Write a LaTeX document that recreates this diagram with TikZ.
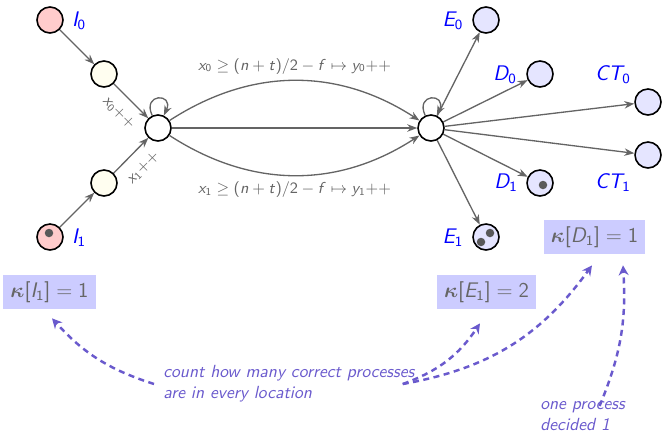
\documentclass[tikz,border=0pt]{standalone}
\usepackage{amsmath,bm}
\usetikzlibrary{arrows.meta}
\DeclareSymbolFont{sfit}{OT1}{cmss}{m}{sl}
\DeclareSymbolFont{sfup}{OT1}{cmss}{m}{n}
\DeclareMathSymbol{x}{\mathalpha}{sfit}{`x}
\DeclareMathSymbol{y}{\mathalpha}{sfit}{`y}
\DeclareMathSymbol{n}{\mathalpha}{sfit}{`n}
\DeclareMathSymbol{t}{\mathalpha}{sfit}{`t}
\DeclareMathSymbol{f}{\mathalpha}{sfit}{`f}
\DeclareMathSymbol{I}{\mathalpha}{sfit}{`I}
\DeclareMathSymbol{E}{\mathalpha}{sfit}{`E}
\DeclareMathSymbol{D}{\mathalpha}{sfit}{`D}
\DeclareMathSymbol{C}{\mathalpha}{sfit}{`C}
\DeclareMathSymbol{T}{\mathalpha}{sfit}{`T}
\DeclareMathSymbol{0}{\mathalpha}{sfup}{`0}
\DeclareMathSymbol{1}{\mathalpha}{sfup}{`1}
\DeclareMathSymbol{2}{\mathalpha}{sfup}{`2}
\DeclareMathSymbol{(}{\mathopen}{sfup}{`(}
\DeclareMathSymbol{)}{\mathclose}{sfup}{`)}
\DeclareMathSymbol{[}{\mathopen}{sfup}{`[}
\DeclareMathSymbol{]}{\mathclose}{sfup}{`]}
\DeclareMathSymbol{/}{\mathord}{sfup}{`/}
\definecolor{edgegray}{RGB}{100,100,100}
\definecolor{notepurple}{RGB}{106,90,205}
\definecolor{boxblue}{RGB}{204,204,255}
\begin{document}
\begin{tikzpicture}[x=0.2mm, y=-0.2mm, font=\sffamily,
  loc/.style={circle, draw, line width=0.9pt, minimum size=5.2mm, inner sep=0pt},
  mv/.style={draw=edgegray, line width=0.75pt, -{Stealth[length=2mm, width=1.5mm]}},
  lbl/.style={text=blue, font=\large\sffamily},
  guard/.style={text=edgegray, font=\small\sffamily},
  kbox/.style={fill=boxblue, text=black!60, font=\large\sffamily, minimum height=6.8mm, inner xsep=1.4mm},
  note/.style={text=notepurple, font=\sffamily\itshape, align=left, inner sep=0pt},
  hint/.style={notepurple, line width=1.4pt, dash pattern=on 1.2mm off 0.9mm, -{Stealth[length=2mm, width=2mm]}},
  tok/.style={circle, fill=black!65, inner sep=0pt, minimum size=1.7mm}]
  \useasboundingbox (0,0) rectangle (662,432);
  % locations
  \node[loc, fill=red!20] (i0) at (50,20) {};
  \node[loc, fill=red!20] (i1) at (50,237) {};
  \node[loc, fill=yellow!6] (a0) at (104,74) {};
  \node[loc, fill=yellow!6] (a1) at (104,183) {};
  \node[loc, fill=white] (l) at (158,128) {};
  \node[loc, fill=white] (r) at (431,128) {};
  \node[loc, fill=blue!10] (e0) at (486,20) {};
  \node[loc, fill=blue!10] (d0) at (540,74) {};
  \node[loc, fill=blue!10] (ct0) at (648,102) {};
  \node[loc, fill=blue!10] (ct1) at (648,155) {};
  \node[loc, fill=blue!10] (d1) at (540,183) {};
  \node[loc, fill=blue!10] (e1) at (486,237) {};
  \node[lbl] (li0) at (79,21) {$I_0$};
  \node[lbl] (li1) at (79,238) {$I_1$};
  \node[lbl] (le0) at (453,21) {$E_0$};
  \node[lbl] (ld0) at (505,75) {$D_0$};
  \node[lbl] (lct0) at (613,75) {$CT_0$};
  \node[lbl] (lct1) at (613,183) {$CT_1$};
  \node[lbl] (ld1) at (506,183) {$D_1$};
  \node[lbl] (le1) at (453,238) {$E_1$};
  % processes
  \node[tok] (p1) at (49,233) {};
  \node[tok] (p2) at (543,185) {};
  \node[tok] (p3) at (490,233) {};
  \node[tok] (p4) at (481,242) {};
  % rules
  \draw[mv] (i0) -- (a0);
  \draw[mv] (i1) -- (a1);
  \draw[mv] (a0) -- node[guard, sloped, below=1mm] {$x_0{+}{+}$} (l);
  \draw[mv] (a1) -- node[guard, sloped, below=1mm] {$x_1{+}{+}$} (l);
  \draw[mv] (l) to[out=115, in=65, min distance=5mm] (l);
  \draw[mv] (r) to[out=115, in=65, min distance=5mm] (r);
  \draw[mv] (l) -- (r);
  \draw[mv] (l) to[bend left=33] node[guard, above] {$x_0 \geq (n+t)/2 - f \mapsto y_0{+}{+}$} (r);
  \draw[mv] (l) to[bend right=33] node[guard, below] {$x_1 \geq (n+t)/2 - f \mapsto y_1{+}{+}$} (r);
  \foreach \t in {e0,d0,ct0,ct1,d1,e1}
    \draw[mv] (r) -- (\t);
  % counters
  \node[kbox] (bi) at (49.5,292) {$\bm{\kappa}[I_1] = 1$};
  \node[kbox] (be) at (486.5,292) {$\bm{\kappa}[E_1] = 2$};
  \node[kbox] (bd) at (594.5,237) {$\bm{\kappa}[D_1] = 1$};
  \node[note, anchor=west] (n1) at (163,384) {count how many correct processes\\are in every location};
  \node[note, anchor=west] (n2) at (540,416) {one process\\decided 1};
  \draw[hint] ([xshift=-1.8mm]n1.west) to[bend left=15] ([xshift=0.5mm, yshift=-1.8mm]bi.south);
  \draw[hint] ([xshift=-2.4mm]n1.east) to[bend right=18] ([xshift=-1.3mm, yshift=-2.8mm]be.south);
  \draw[hint] ([xshift=-2.4mm]n1.east) to[bend right=22] ([xshift=-0.5mm, yshift=-2.2mm]bd.south);
  \draw[hint] ([xshift=3.4mm, yshift=-1mm]n2.north) to[bend right=13] ([xshift=5.7mm, yshift=-2.2mm]bd.south);
\end{tikzpicture}
\end{document}
